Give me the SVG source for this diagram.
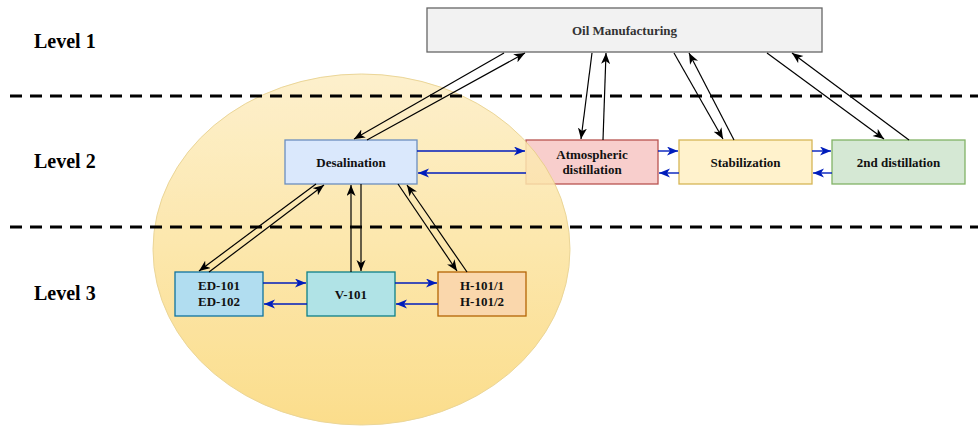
<svg xmlns="http://www.w3.org/2000/svg" width="978" height="428" viewBox="0 0 978 428">
  <style>
    .lvl { font-family: "Liberation Serif", "Times New Roman", serif; font-weight: bold; font-size: 20px; fill: #000; }
    .lbl { font-family: "Liberation Serif", "Times New Roman", serif; font-weight: bold; font-size: 13px; fill: #111; text-anchor: middle; }
    .dash { stroke: #000; stroke-width: 3; stroke-dasharray: 12 8; fill: none; }
    .blk { stroke: #000; stroke-width: 1.2; fill: none; marker-end: url(#ab); }
    .blu { stroke: #001DBC; stroke-width: 1.4; fill: none; marker-end: url(#au); }
    .box { stroke-width: 1.3; }
  </style>
  <defs>
    <marker id="ab" markerUnits="userSpaceOnUse" markerWidth="12" markerHeight="10" refX="11" refY="4.5" orient="auto">
      <path d="M0,0 L11,4.5 L0,9 L3,4.5 z" fill="#000"/>
    </marker>
    <marker id="au" markerUnits="userSpaceOnUse" markerWidth="12" markerHeight="10" refX="11" refY="4.5" orient="auto">
      <path d="M0,0 L11,4.5 L0,9 L3,4.5 z" fill="#001DBC"/>
    </marker>
    <linearGradient id="cg" x1="0" y1="0" x2="0" y2="1">
      <stop offset="0" stop-color="#fdeec4"/>
      <stop offset="1" stop-color="#fbd878"/>
    </linearGradient>
  </defs>

  <rect width="978" height="428" fill="#fff"/>

  <!-- Atmospheric distillation is drawn beneath the circle -->
  <g id="atmospheric">
    <rect class="box" x="526" y="140" width="132" height="44" fill="#f8cecc" stroke="#b85450"/>
    <text class="lbl" x="592" y="159">Atmospheric</text>
    <text class="lbl" x="592" y="174">distillation</text>
  </g>

  <g id="desalination-group">
    <ellipse cx="361.5" cy="249.5" rx="208.5" ry="175.5" fill="url(#cg)" stroke="#e8cf86" stroke-width="1" opacity="0.85"/>
  </g>

  <!-- level labels and separators -->
  <text class="lvl" x="34" y="48">Level 1</text>
  <text class="lvl" x="34" y="168">Level 2</text>
  <text class="lvl" x="34" y="300">Level 3</text>
  <line class="dash" x1="10" y1="96" x2="978" y2="96"/>
  <line class="dash" x1="10" y1="227" x2="978" y2="227"/>

  <g id="oil">
    <rect class="box" x="427" y="8" width="395" height="44" fill="#f2f2f2" stroke="#666"/>
    <text class="lbl" x="624.5" y="34.5" style="fill:#333">Oil Manufacturing</text>
  </g>

  <g id="desalination">
    <rect class="box" x="285" y="140" width="132" height="44" fill="#dae8fc" stroke="#6c8ebf"/>
    <text class="lbl" x="351" y="166.5">Desalination</text>
  </g>

  <g id="stabilization">
    <rect class="box" x="679" y="140" width="133" height="44" fill="#fff2cc" stroke="#d6b656"/>
    <text class="lbl" x="745.5" y="166.5">Stabilization</text>
  </g>

  <g id="distillation2">
    <rect class="box" x="832" y="140" width="133" height="44" fill="#d5e8d4" stroke="#82b366"/>
    <text class="lbl" x="898.5" y="166.5">2nd distillation</text>
  </g>

  <g id="ed">
    <rect class="box" x="175" y="272" width="88" height="44" fill="#b1ddf0" stroke="#10739e"/>
    <text class="lbl" x="219" y="290">ED-101</text>
    <text class="lbl" x="219" y="306">ED-102</text>
  </g>

  <g id="v101">
    <rect class="box" x="307" y="272" width="88" height="44" fill="#b0e3e6" stroke="#0e8088"/>
    <text class="lbl" x="351" y="298.5">V-101</text>
  </g>

  <g id="h101">
    <rect class="box" x="438" y="272" width="88" height="44" fill="#fad7ac" stroke="#b46504"/>
    <text class="lbl" x="482" y="290">H-101/1</text>
    <text class="lbl" x="482" y="306">H-101/2</text>
  </g>

  <g id="connectors">
    <path class="blk" d="M504,53 L354,139"/>
    <path class="blk" d="M367,140 L525,53"/>
    <path class="blk" d="M592,53 L581,139"/>
    <path class="blk" d="M603,140 L606,53"/>
    <path class="blk" d="M674,53 L723,139"/>
    <path class="blk" d="M734,140 L689,53"/>
    <path class="blk" d="M767,53 L884,139"/>
    <path class="blk" d="M909,140 L792,53"/>
    <path class="blk" d="M316,184 L199,271"/>
    <path class="blk" d="M209,272 L324,185"/>
    <path class="blk" d="M351,272 L351,185"/>
    <path class="blk" d="M361,184 L361,271"/>
    <path class="blk" d="M398,184 L457,271"/>
    <path class="blk" d="M467,272 L407,185"/>

    <path class="blu" d="M417,151 L525,151"/>
    <path class="blu" d="M526,173 L418,173"/>
    <path class="blu" d="M658,151 L678,151"/>
    <path class="blu" d="M679,173 L659,173"/>
    <path class="blu" d="M812,151 L831,151"/>
    <path class="blu" d="M832,173 L813,173"/>
    <path class="blu" d="M263,283 L306,283"/>
    <path class="blu" d="M307,304 L264,304"/>
    <path class="blu" d="M395,283 L437,283"/>
    <path class="blu" d="M438,304 L396,304"/>
  </g>
</svg>
